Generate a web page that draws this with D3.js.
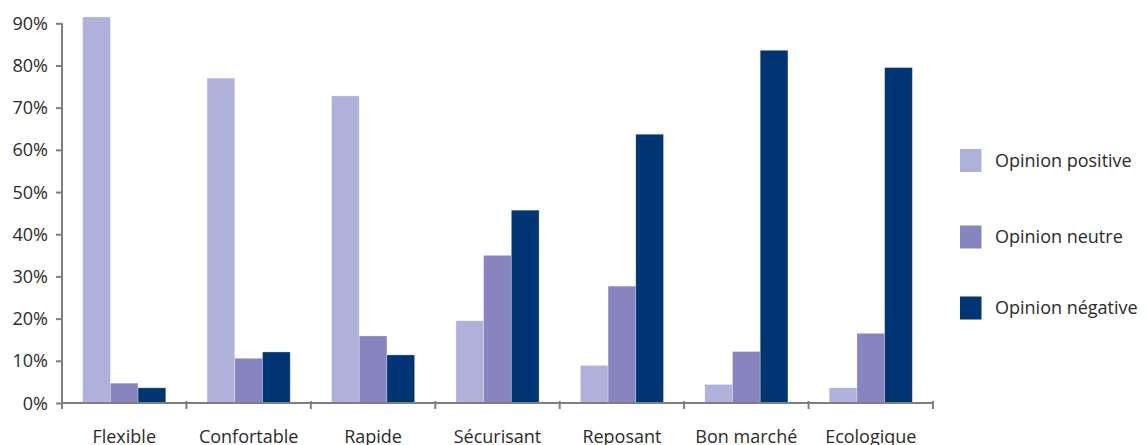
<!DOCTYPE html>
<html><head><meta charset="utf-8">
<script src="https://cdn.jsdelivr.net/npm/d3@7"></script>
<style>
body{margin:0;background:#fff;}
text{font-family:"Open Sans","Noto Sans",sans-serif;fill:#2b2b2b;}
</style></head>
<body><svg id="c" width="1146" height="445"></svg>
<script>
const categories = ["Flexible","Confortable","Rapide","Sécurisant","Reposant","Bon marché","Ecologique"];
const seriesNames = ["Opinion positive","Opinion neutre","Opinion négative"];
const positive = [91.5, 77.0, 72.8, 19.5, 8.9, 4.4, 3.6];
const neutral  = [4.7, 10.6, 15.9, 35.0, 27.7, 12.2, 16.5];
const negative = [3.6, 12.1, 11.4, 45.7, 63.7, 83.6, 79.5];
const colors = ["#AFB1DA","#8884BF","#003574"];
const yTicks = [0,10,20,30,40,50,60,70,80,90];

const seriesValues = [positive, neutral, negative];
const svg = d3.select("#c");
const mLeft = 62, mRight = 933, mTop = 23.3, mBottom = 403;

const y = d3.scaleLinear().domain([0,90]).range([mBottom, mTop]);
const x0 = d3.scaleBand().domain(categories).range([mLeft, mRight]).padding(0);
const gap = x0.bandwidth()*0.166;
const x1 = d3.scaleBand().domain(seriesNames).range([gap, x0.bandwidth()-gap]).padding(0);

// bars
const g = svg.append("g");
categories.forEach((c, ci) => {
  seriesNames.forEach((s, si) => {
    const v = seriesValues[si][ci];
    g.append("rect")
      .attr("x", x0(c) + x1(s))
      .attr("y", y(v))
      .attr("width", x1.bandwidth())
      .attr("height", y(0) - y(v))
      .attr("fill", colors[si])
      .attr("stroke", "rgba(255,255,255,0.35)")
      .attr("stroke-width", 0.8);
  });
});

// y axis
const yAxis = svg.append("g").attr("transform", `translate(${mLeft},0)`)
  .call(d3.axisLeft(y).tickValues(yTicks).tickFormat(d => d + "%").tickSize(6).tickPadding(8));
yAxis.select(".domain").attr("stroke", "#7f7f7f").attr("stroke-width", 2).attr("d", `M0,${mBottom}V${mTop}`);
yAxis.selectAll(".tick line").attr("stroke", "#7f7f7f").attr("stroke-width", 2);
yAxis.selectAll(".tick text").style("font-size", "18px").attr("fill", "#2b2b2b").attr("dy", "0.34em");

// x axis
const xAxisG = svg.append("g").attr("transform", `translate(0,${mBottom})`);
xAxisG.append("line").attr("x1", mLeft - 1).attr("x2", mRight + 1).attr("y1", 0).attr("y2", 0)
  .attr("stroke", "#7f7f7f").attr("stroke-width", 2);
const bounds = categories.map(c => x0(c)).concat([x0(categories[categories.length-1]) + x0.bandwidth()]);
xAxisG.selectAll(".xt").data(bounds).join("line")
  .attr("x1", d => d).attr("x2", d => d).attr("y1", -2).attr("y2", 6)
  .attr("stroke", "#7f7f7f").attr("stroke-width", 2);
xAxisG.selectAll(".xl").data(categories).join("text")
  .attr("x", d => x0(d) + x0.bandwidth()/2).attr("y", 39.5)
  .attr("text-anchor", "middle").style("font-size", "18px").text(d => d);

// legend
const legY = [160.5, 237, 308];
const leg = svg.append("g");
seriesNames.forEach((s, i) => {
  leg.append("rect").attr("x", 960).attr("y", legY[i] - 11.5).attr("width", 21.5).attr("height", 23).attr("fill", colors[i]);
  leg.append("text").attr("x", 995).attr("y", legY[i]).attr("dy", "0.35em").style("font-size", "18px").text(s);
});
</script></body></html>
